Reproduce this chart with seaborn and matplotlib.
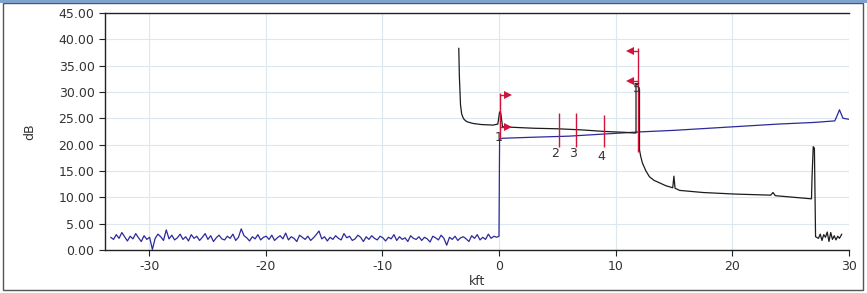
import numpy as np
import pandas as pd
import matplotlib
matplotlib.use("Agg")
import matplotlib.pyplot as plt
import seaborn as sns

# --- DATA (kft / dB)

# launch-side noise on the blue trace, sampled evenly from -33.3 to -0.2 kft
blue_noise = [
    2.4, 2.0, 2.9, 2.2, 3.3, 2.5, 1.7, 2.6, 2.1, 3.1,
    2.3, 1.6, 2.7, 2.0, 2.4, 0.1, 2.2, 3.0, 2.5, 1.8,
    3.8, 2.1, 2.8, 1.9, 2.3, 3.0, 2.0, 2.5, 1.7, 2.9,
    2.2, 2.6, 1.8, 2.4, 3.1, 2.0, 2.7, 1.6, 2.3, 2.8,
    2.1, 1.9, 2.6, 2.2, 3.0, 1.8, 2.4, 4.0, 2.7, 2.3,
    1.7, 2.5, 2.1, 2.9, 1.9, 2.4, 2.6, 2.0, 2.8, 1.8,
    2.3, 2.7, 2.1, 3.2, 1.9, 2.5, 2.2, 1.6, 2.8, 2.4,
    2.0, 2.6, 1.8, 2.3, 2.9, 3.6, 2.1, 2.5, 1.7, 2.4,
    2.0, 2.7, 2.2, 1.9, 3.1, 2.3, 2.6, 1.8, 2.1, 2.8,
    2.4, 1.6, 2.5, 2.0, 2.7, 2.2, 1.9, 2.6, 2.3, 1.7,
    2.4, 2.1, 2.9, 1.8, 2.5, 2.0, 2.3, 1.6, 2.7, 2.2,
    2.0, 2.5, 1.8, 2.4, 2.1, 1.5, 2.6, 2.3, 1.9, 2.8,
    2.2, 0.9, 2.4, 2.0, 2.6, 1.8, 2.3, 2.5, 2.1, 1.6,
    2.7, 2.2, 2.9, 1.9, 2.4, 2.0, 3.0, 2.2, 2.6, 2.4,
]
blue_noise_x = np.linspace(-33.3, -0.2, len(blue_noise))

# blue trace along the fibre
blue_fx = [0.0, 0.05, 0.3, 3.0, 6.0, 9.0, 12.0, 15.0, 18.0, 21.0, 24.0, 27.0, 28.8, 29.0, 29.2, 29.5, 30.0]
blue_fy = [2.6, 21.0, 21.2, 21.4, 21.6, 22.0, 22.4, 22.7, 23.1, 23.5, 23.9, 24.2, 24.5, 25.5, 26.6, 25.0, 24.8]

# black trace
black_x = [-3.45, -3.4, -3.3, -3.2, -3.1, -3.0, -2.85, -2.7, -2.2, -1.5, -0.5, -0.1, 0.05, 0.15, 0.3,
           1.0, 3.0, 5.0, 7.0, 9.0, 11.0, 11.6, 11.75, 11.75, 11.95, 11.95, 12.05, 12.05,
           12.15, 12.3, 12.6, 12.9, 13.3, 13.8, 14.3, 14.9, 15.0, 15.1, 15.5, 16.5, 17.5,
           20.3, 23.3, 23.5, 23.7, 26.8, 26.85, 26.95, 27.05, 27.15, 27.4, 27.55, 27.7,
           27.85, 28.0, 28.15, 28.3, 28.45, 28.6, 28.75, 28.9, 29.05, 29.2, 29.4]
black_y = [38.3, 33.0, 27.5, 25.8, 25.2, 24.8, 24.5, 24.3, 24.0, 23.8, 23.7, 23.9, 26.2, 26.0, 23.4,
           23.3, 23.1, 23.0, 22.8, 22.5, 22.3, 22.2, 22.2, 31.4, 31.4, 31.0, 30.5, 19.0,
           17.8, 16.5, 15.0, 13.9, 13.2, 12.7, 12.2, 11.8, 14.0, 11.7, 11.3, 11.1, 10.9,
           10.6, 10.4, 10.9, 10.3, 9.7, 13.9, 19.6, 19.3, 2.5, 2.2, 3.0, 1.8, 2.9,
           2.4, 3.4, 1.6, 3.3, 2.0, 2.7, 1.9, 2.6, 2.2, 3.0]

# event markers
marker_labels = ["1", "2", "3", "4", "5"]
marker_x = [0.05, 5.15, 6.6, 9.0, 11.95]
marker_top = [29.8, 26.0, 26.0, 25.6, 38.3]
marker_bottom = [21.0, 19.6, 19.6, 19.6, 18.5]
label_x = [-0.05, 4.85, 6.35, 8.8, 11.85]
label_y = [21.4, 18.3, 18.3, 17.7, 30.6]

# direction flags on markers 1 and 5
flag_x = [0.05, 0.05, 11.95, 11.95]
flag_y = [29.4, 23.3, 37.8, 32.0]
flag_dir = [1, 1, -1, -1]

blue = pd.DataFrame({"kft": np.concatenate([blue_noise_x, blue_fx]),
                     "dB": np.concatenate([blue_noise, blue_fy])})
black = pd.DataFrame({"kft": black_x, "dB": black_y})

# --- PLOT
sns.set_style("white")
plt.rcParams["font.family"] = ["DejaVu Sans"]
plt.rcParams["axes.unicode_minus"] = False

fig = plt.figure(figsize=(8.67, 2.93), dpi=100)
ax = fig.add_axes([0.121, 0.147, 0.858, 0.809])

red = "#d0143c"

sns.lineplot(data=blue, x="kft", y="dB", sort=False, estimator=None,
             color="#2a2a9c", lw=0.9, ax=ax)
sns.lineplot(data=black, x="kft", y="dB", sort=False, estimator=None,
             color="#1c1c1c", lw=0.9, ax=ax)

ax.vlines(marker_x, marker_bottom, marker_top, color=red, lw=1.0, zorder=4)
for lx, ly, lab in zip(label_x, label_y, marker_labels):
    ax.text(lx, ly, lab, ha="center", va="center", fontsize=9, color="#333333", zorder=5)

for fx, fy, d in zip(flag_x, flag_y, flag_dir):
    end = fx + d * 0.7
    ax.plot([fx, end], [fy, fy], color=red, lw=1.0, zorder=4)
    ax.plot(end, fy, marker=">" if d > 0 else "<", color=red, ms=6, mew=0, zorder=4)

ax.set_xlim(-33.8, 30.0)
ax.set_ylim(0, 45)
ax.set_xticks([-30, -20, -10, 0, 10, 20, 30])
ax.set_yticks(np.arange(0, 46, 5))
ax.set_yticklabels([f"{v:.2f}" for v in np.arange(0, 46, 5)])
ax.grid(True, color="#dde7ee", lw=0.8)
ax.set_axisbelow(True)
ax.tick_params(axis="both", labelsize=9, length=4, width=0.8, color="#222222",
               labelcolor="#333333", direction="out", bottom=True, left=True)

ax.spines["right"].set_visible(False)
for s in ["left", "bottom", "top"]:
    ax.spines[s].set_color("#222222")
    ax.spines[s].set_linewidth(1.0)

ax.set_xlabel("kft", fontsize=9, color="#333333", labelpad=1)
ax.set_ylabel("dB", fontsize=9, color="#333333", labelpad=16)

# window frame and title strip
fig.patches.append(plt.Rectangle((0.004, 0.01), 0.991, 0.98, transform=fig.transFigure,
                                 fill=False, edgecolor="#555555", lw=1.0))
fig.patches.append(plt.Rectangle((0.0, 0.99), 1.0, 0.01, transform=fig.transFigure,
                                 facecolor="#7ea3cf", edgecolor="none"))

fig.savefig("out.png", dpi=100)
